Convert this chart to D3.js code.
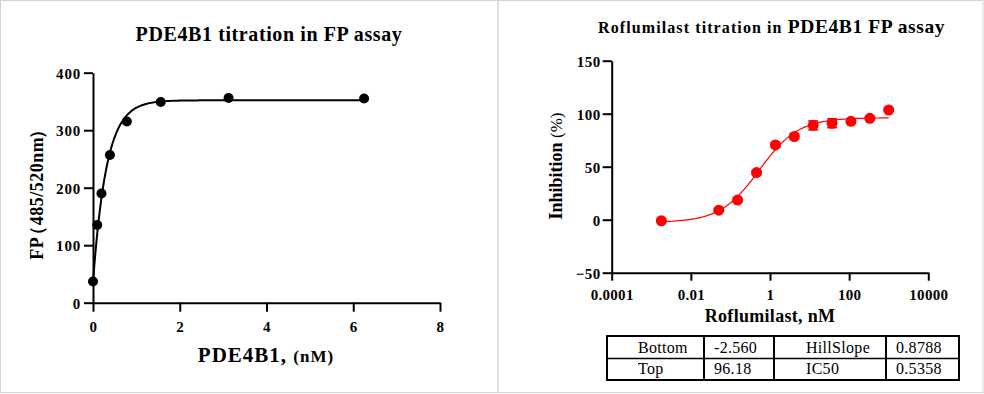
<!DOCTYPE html>
<html>
<head>
<meta charset="utf-8">
<script src="https://cdn.jsdelivr.net/npm/d3@7"></script>
<style>
	body { margin: 0; background: #fff; }
	svg { display: block; font-family: 'Liberation Serif', 'Times New Roman', serif; }
	.tick text { font-family: 'Liberation Serif', 'Times New Roman', serif; font-weight: bold; font-size: 15px; fill: #000; }
	.tick line, .domain { stroke: #000; stroke-width: 2px; }
</style>
</head>
<body>
<svg></svg>
<script>
// left panel: PDE4B1 titration
const enzymeConc = [0, 0.098, 0.195, 0.39, 0.78, 1.5625, 3.125, 6.25];
const fpSignal = [37, 135, 190, 257, 315, 349, 356, 355];
const leftXTicks = [0, 2, 4, 6, 8];
const leftYTicks = [0, 100, 200, 300, 400];
// one-phase association fit
const fpY0 = 35, fpPlateau = 352, fpK = 3.2;

// right panel: Roflumilast titration
const roflConc = [0.0018, 0.0508, 0.152, 0.457, 1.372, 4.115, 12.35, 37.04, 111.1, 333.3, 1000];
const inhibition = [-1, 9, 18.5, 44.5, 70.5, 78.5, 89, 91, 92.8, 95.6, 103.5];
const inhibitionErr = [0.8, 1.2, 1.5, 1.8, 2.0, 2.2, 4.2, 4.2, 2.0, 1.5, 1.0];
const rightXTicks = [0.0001, 0.01, 1, 100, 10000];
const rightXTickLabels = ['0.0001', '0.01', '1', '100', '10000'];
const rightYTicks = [-50, 0, 50, 100, 150];
// four-parameter logistic fit values
const fitBottom = -2.560, fitTop = 96.18, fitHill = 0.8788, fitIC50 = 0.5358;
const tableRows = [
	['Bottom', '-2.560', 'HillSlope', '0.8788'],
	['Top', '96.18', 'IC50', '0.5358']
];

const width = 984;
const height = 394;

const svg = d3.select('svg')
	.attr('width', width)
	.attr('height', height);

// frame
svg.append('rect')
	.attr('x', 0.5).attr('y', 0.5)
	.attr('width', 982.5).attr('height', 392)
	.attr('fill', 'none')
	.attr('stroke', '#d4d4d4')
	.attr('stroke-width', 1);
svg.append('line')
	.attr('x1', 498).attr('x2', 498)
	.attr('y1', 0).attr('y2', 393)
	.attr('stroke', '#d4d4d4')
	.attr('stroke-width', 1.5);

// ---------- left chart ----------
const xL = d3.scaleLinear().domain([0, 8]).range([93, 440]);
const yL = d3.scaleLinear().domain([0, 400]).range([302.7, 72.7]);

const gL = svg.append('g');

gL.append('g')
	.attr('transform', `translate(0, ${yL(0)})`)
	.call(d3.axisBottom(xL).tickValues(leftXTicks).tickSize(9).tickPadding(10).tickSizeOuter(0))
	.selectAll('text').attr('letter-spacing', 0.5);

gL.append('g')
	.attr('transform', `translate(${xL(0)}, 0)`)
	.call(d3.axisLeft(yL).tickValues(leftYTicks).tickSize(9).tickPadding(3).tickSizeOuter(0))
	.selectAll('text').attr('letter-spacing', 0.8).attr('dy', '0.36em');

const fpCurve = d3.range(0, 6.25 + 1e-9, 0.02).map(x => [x, fpY0 + (fpPlateau - fpY0) * (1 - Math.exp(-fpK * x))]);
gL.append('path')
	.datum(fpCurve)
	.attr('fill', 'none')
	.attr('stroke', '#000')
	.attr('stroke-width', 2)
	.attr('d', d3.line().x(d => xL(d[0])).y(d => yL(d[1])).curve(d3.curveMonotoneX));

gL.selectAll('circle').data(enzymeConc)
	.enter().append('circle')
	.attr('cx', d => xL(d))
	.attr('cy', (d, i) => yL(fpSignal[i]))
	.attr('r', 5)
	.attr('fill', '#000');

gL.append('text')
	.attr('x', 269).attr('y', 41)
	.attr('text-anchor', 'middle')
	.attr('font-weight', 'bold')
	.attr('font-size', 20)
	.attr('letter-spacing', 0.6)
	.text('PDE4B1 titration in FP assay');

const xTitleL = gL.append('text')
	.attr('x', 266).attr('y', 362)
	.attr('text-anchor', 'middle')
	.attr('font-weight', 'bold');
xTitleL.append('tspan').attr('font-size', 21).attr('letter-spacing', 1).text('PDE4B1, ');
xTitleL.append('tspan').attr('font-size', 17).attr('letter-spacing', 1).text('(nM)');

const yTitleL = gL.append('text')
	.attr('transform', 'translate(43, 190) rotate(-90)')
	.attr('text-anchor', 'middle')
	.attr('font-weight', 'bold')
	.attr('font-size', 18)
	.attr('letter-spacing', 0.5);
yTitleL.append('tspan').text('FP');
yTitleL.append('tspan').attr('dx', -7).text('（485/520nm');
yTitleL.append('tspan').attr('dx', -2).text('）');

// ---------- right chart ----------
const xR = d3.scaleLog().domain([1e-4, 1e4]).range([611.7, 928.3]);
const yR = d3.scaleLinear().domain([-50, 150]).range([272.7, 60.7]);

const gR = svg.append('g');

gR.append('g')
	.attr('transform', `translate(0, ${yR(-50)})`)
	.call(d3.axisBottom(xR).tickValues(rightXTicks).tickFormat((d, i) => rightXTickLabels[i]).tickSize(8).tickPadding(9).tickSizeOuter(0))
	.selectAll('text').attr('letter-spacing', 0.3);

gR.append('g')
	.attr('transform', `translate(${xR(1e-4)}, 0)`)
	.call(d3.axisLeft(yR).tickValues(rightYTicks).tickSize(9).tickPadding(2).tickSizeOuter(0))
	.selectAll('text').attr('letter-spacing', 0.5).attr('dy', '0.36em');

const logistic = x => fitBottom + (fitTop - fitBottom) / (1 + Math.pow(fitIC50 / x, fitHill));
const logMin = Math.log10(roflConc[0]);
const logMax = Math.log10(roflConc[roflConc.length - 1]);
const roflCurve = d3.range(0, 201).map(i => {
	const x = Math.pow(10, logMin + (logMax - logMin) * i / 200);
	return [x, logistic(x)];
});
gR.append('path')
	.datum(roflCurve)
	.attr('fill', 'none')
	.attr('stroke', '#ff0000')
	.attr('stroke-width', 1.2)
	.attr('d', d3.line().x(d => xR(d[0])).y(d => yR(d[1])));

// error bars
const errG = gR.append('g').attr('stroke', '#ff0000').attr('stroke-width', 1.5);
roflConc.forEach((c, i) => {
	const cx = xR(c);
	const y1 = yR(inhibition[i] + inhibitionErr[i]);
	const y2 = yR(inhibition[i] - inhibitionErr[i]);
	errG.append('line').attr('x1', cx).attr('x2', cx).attr('y1', y1).attr('y2', y2);
	errG.append('line').attr('x1', cx - 5).attr('x2', cx + 5).attr('y1', y1).attr('y2', y1);
	errG.append('line').attr('x1', cx - 5).attr('x2', cx + 5).attr('y1', y2).attr('y2', y2);
});

gR.selectAll('circle').data(roflConc)
	.enter().append('circle')
	.attr('cx', d => xR(d))
	.attr('cy', (d, i) => yR(inhibition[i]))
	.attr('r', 5.5)
	.attr('fill', '#ff0000');

const titleR = gR.append('text')
	.attr('x', 598).attr('y', 33)
	.attr('font-weight', 'bold');
titleR.append('tspan').attr('font-size', 16).attr('letter-spacing', 1.1).text('Roflumilast titration in ');
titleR.append('tspan').attr('font-size', 19.5).attr('letter-spacing', 0.6).text('PDE4B1 FP assay');

gR.append('text')
	.attr('x', 770).attr('y', 322)
	.attr('text-anchor', 'middle')
	.attr('font-weight', 'bold')
	.attr('font-size', 18)
	.attr('letter-spacing', 0.3)
	.text('Roflumilast, nM');

const yTitleR = gR.append('text')
	.attr('transform', 'translate(562, 166) rotate(-90)')
	.attr('text-anchor', 'middle');
yTitleR.append('tspan').attr('font-weight', 'bold').attr('font-size', 18).text('Inhibition ');
yTitleR.append('tspan').attr('font-size', 17).text('(%)');

// parameter table
const colEdges = [607, 704, 774, 886, 959];
const rowEdges = [336, 358.5, 380];
const colPad = [31, 10, 32, 10];
const tableG = gR.append('g');
tableG.append('rect')
	.attr('x', colEdges[0]).attr('y', rowEdges[0])
	.attr('width', colEdges[4] - colEdges[0])
	.attr('height', rowEdges[2] - rowEdges[0])
	.attr('fill', 'none')
	.attr('stroke', '#000')
	.attr('stroke-width', 2);
tableG.append('line')
	.attr('x1', colEdges[0]).attr('x2', colEdges[4])
	.attr('y1', rowEdges[1]).attr('y2', rowEdges[1])
	.attr('stroke', '#000').attr('stroke-width', 1.5);
colEdges.slice(1, 4).forEach(x => {
	tableG.append('line')
		.attr('x1', x).attr('x2', x)
		.attr('y1', rowEdges[0]).attr('y2', rowEdges[2])
		.attr('stroke', '#000').attr('stroke-width', 2);
});
tableRows.forEach((row, r) => {
	row.forEach((cell, c) => {
		tableG.append('text')
			.attr('x', colEdges[c] + colPad[c])
			.attr('y', rowEdges[r + 1] - 6)
			.attr('font-size', 16)
			.attr('letter-spacing', 0.3)
			.text(cell);
	});
});
</script>
</body>
</html>
